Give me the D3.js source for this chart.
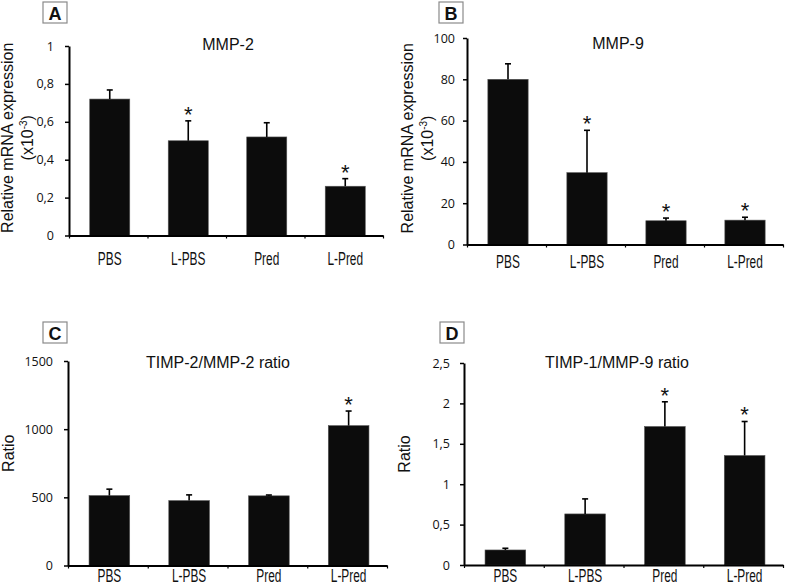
<!DOCTYPE html>
<html>
<head>
<meta charset="utf-8">
<script src="https://cdn.jsdelivr.net/npm/d3@7"></script>
<style>
  html, body { margin: 0; padding: 0; background: #fff; }
  svg { display: block; }
</style>
</head>
<body>
<svg id="chart" width="787" height="587"></svg>
<script>
// ---------- data ----------
const categories = ["PBS", "L-PBS", "Pred", "L-Pred"];

const mmp2Values = [0.72, 0.50, 0.52, 0.26];
const mmp2Errors = [0.048, 0.105, 0.075, 0.04];
const mmp2Sig = [false, true, false, true];
const mmp2Ticks = [0, 0.2, 0.4, 0.6, 0.8, 1];

const mmp9Values = [80, 34.8, 11.5, 11.8];
const mmp9Errors = [7.5, 20.5, 1.3, 1.4];
const mmp9Sig = [false, true, true, true];
const mmp9Ticks = [0, 20, 40, 60, 80, 100];

const timp2Values = [513, 476, 511, 1026];
const timp2Errors = [47, 42, 6, 107];
const timp2Sig = [false, false, false, true];
const timp2Ticks = [0, 500, 1000, 1500];

const timp1Values = [0.186, 0.632, 1.714, 1.355];
const timp1Errors = [0.021, 0.186, 0.306, 0.421];
const timp1Sig = [false, false, true, true];
const timp1Ticks = [0, 0.5, 1, 1.5, 2, 2.5];

const panelLetters = ["A", "B", "C", "D"];
const panelTitles = ["MMP-2", "MMP-9", "TIMP-2/MMP-2 ratio", "TIMP-1/MMP-9 ratio"];

// ---------- layout ----------
const panels = [
  { letter: panelLetters[0], title: panelTitles[0], values: mmp2Values, errors: mmp2Errors, sig: mmp2Sig, ticks: mmp2Ticks,
    x0: 69, x1: 383, yTop: 46, yBot: 235.5, tickPad: 11, box: [43, 2], titleX: 228, titleY: 50,
    ylab: "mrna", ylabX: 13, catY: 265 },
  { letter: panelLetters[1], title: panelTitles[1], values: mmp9Values, errors: mmp9Errors, sig: mmp9Sig, ticks: mmp9Ticks,
    x0: 467, x1: 783, yTop: 38, yBot: 244.5, tickPad: 8, box: [439, 2], titleX: 618, titleY: 49,
    ylab: "mrna", ylabX: 413, catY: 268 },
  { letter: panelLetters[2], title: panelTitles[2], values: timp2Values, errors: timp2Errors, sig: timp2Sig, ticks: timp2Ticks,
    x0: 68, x1: 387, yTop: 361, yBot: 565.5, tickPad: 11, box: [43, 322], titleX: 218, titleY: 368,
    ylab: "ratio", ylabX: 14, catY: 582 },
  { letter: panelLetters[3], title: panelTitles[3], values: timp1Values, errors: timp1Errors, sig: timp1Sig, ticks: timp1Ticks,
    x0: 464, x1: 783, yTop: 363, yBot: 565, tickPad: 10, box: [440, 322], titleX: 617, titleY: 368,
    ylab: "ratio", ylabX: 410, catY: 582 }
];

const svg = d3.select("#chart");
const fmt = d => String(d).replace(".", ",");

panels.forEach(p => {
  const g = svg.append("g");
  const maxV = p.ticks[p.ticks.length - 1];
  const y = d3.scaleLinear().domain([0, maxV]).range([p.yBot, p.yTop]);
  const x = d3.scaleBand().domain(categories).range([p.x0, p.x1]).paddingInner(0.49).paddingOuter(0.245);
  const xb = d3.scaleLinear().domain([0, categories.length]).range([p.x0, p.x1]);

  // bars
  g.selectAll("rect.bar").data(categories).join("rect")
    .attr("class", "bar")
    .attr("x", d => x(d) + 1.5)
    .attr("width", x.bandwidth())
    .attr("y", (d, i) => y(p.values[i]))
    .attr("height", (d, i) => y(0) - y(p.values[i]))
    .attr("fill", "#0c0c0c")
    .attr("stroke", "#555")
    .attr("stroke-width", 0.6);

  // error bars (upper only)
  const cx = d => x(d) + 1.5 + x.bandwidth() / 2;
  g.selectAll("line.err").data(categories).join("line")
    .attr("class", "err")
    .attr("x1", cx).attr("x2", cx)
    .attr("y1", (d, i) => y(p.values[i]))
    .attr("y2", (d, i) => y(p.values[i] + p.errors[i]))
    .attr("stroke", "#000").attr("stroke-width", 1.6);
  g.selectAll("line.cap").data(categories).join("line")
    .attr("class", "cap")
    .attr("x1", d => cx(d) - 3).attr("x2", d => cx(d) + 3)
    .attr("y1", (d, i) => y(p.values[i] + p.errors[i]))
    .attr("y2", (d, i) => y(p.values[i] + p.errors[i]))
    .attr("stroke", "#000").attr("stroke-width", 1.6);

  // significance asterisks
  g.selectAll("text.sig").data(categories.filter((d, i) => p.sig[i])).join("text")
    .attr("class", "sig")
    .attr("x", d => cx(d))
    .attr("y", d => { const i = categories.indexOf(d); return y(p.values[i] + p.errors[i]) + 1; })
    .attr("text-anchor", "middle")
    .attr("font-family", "Liberation Sans, Arial, sans-serif")
    .attr("font-size", 22)
    .attr("fill", "#111")
    .text("*");

  // y axis
  const ya = g.append("g").attr("transform", `translate(${p.x0},0)`)
    .call(d3.axisLeft(y).tickValues(p.ticks).tickFormat(fmt).tickSize(4).tickSizeOuter(0).tickPadding(p.tickPad));
  ya.select(".domain").attr("stroke", "#000").attr("stroke-width", 2);
  ya.selectAll(".tick line").attr("stroke", "#000").attr("stroke-width", 1.5);
  ya.selectAll(".tick text").attr("font-family", "Open Sans, sans-serif").attr("font-size", 12.5).attr("fill", "#111");

  // x axis line with boundary ticks
  const xa = g.append("g").attr("transform", `translate(0,${p.yBot})`)
    .call(d3.axisBottom(xb).tickValues(d3.range(categories.length + 1)).tickFormat("").tickSize(3).tickSizeOuter(0));
  xa.select(".domain").attr("stroke", "#000").attr("stroke-width", 2);
  xa.selectAll(".tick line").attr("stroke", "#000").attr("stroke-width", 1.2);

  // category labels
  const xl = g.append("g").attr("transform", `translate(0,${p.yBot})`)
    .call(d3.axisBottom(x).tickSize(0).tickPadding(0));
  xl.select(".domain").remove();
  xl.selectAll(".tick").attr("transform", d => `translate(${cx(d)},0)`);
  xl.selectAll(".tick text")
    .attr("y", p.catY - p.yBot).attr("dy", 0)
    .attr("transform", "scale(0.66,1)")
    .attr("font-family", "Liberation Sans, Arial, sans-serif")
    .attr("font-size", 18)
    .attr("fill", "#111");

  // title
  g.append("text").attr("x", p.titleX).attr("y", p.titleY)
    .attr("text-anchor", "middle")
    .attr("font-family", "Liberation Sans, Arial, sans-serif")
    .attr("font-size", 16).attr("fill", "#111")
    .text(p.title);

  // panel letter box
  g.append("rect").attr("x", p.box[0]).attr("y", p.box[1]).attr("width", 24).attr("height", 21)
    .attr("fill", "#fff").attr("stroke", "#8a8a8a").attr("stroke-width", 1.2);
  g.append("text").attr("x", p.box[0] + 12).attr("y", p.box[1] + 17.5)
    .attr("text-anchor", "middle")
    .attr("font-family", "Liberation Sans, Arial, sans-serif")
    .attr("font-weight", "bold").attr("font-size", 18).attr("fill", "#111")
    .text(p.letter);

  // y label
  const cy = (p.yTop + p.yBot) / 2 - 3;
  if (p.ylab === "mrna") {
    g.append("text")
      .attr("transform", `translate(${p.ylabX},${cy}) rotate(-90)`)
      .attr("text-anchor", "middle")
      .attr("font-family", "Liberation Sans, Arial, sans-serif")
      .attr("font-size", 16).attr("fill", "#111")
      .text("Relative mRNA expression");
    const t2 = g.append("text")
      .attr("transform", `translate(${p.ylabX + 20},${cy}) rotate(-90)`)
      .attr("text-anchor", "middle")
      .attr("font-family", "Liberation Sans, Arial, sans-serif")
      .attr("font-size", 16).attr("fill", "#111");
    t2.append("tspan").text("(x10");
    t2.append("tspan").attr("dy", -6).attr("font-size", 10).text("-3");
    t2.append("tspan").attr("dy", 6).text(")");
  } else {
    g.append("text")
      .attr("transform", `translate(${p.ylabX},${(p.yTop + p.yBot) / 2 - 10}) rotate(-90)`)
      .attr("text-anchor", "middle")
      .attr("font-family", "Liberation Sans, Arial, sans-serif")
      .attr("font-size", 16).attr("fill", "#111")
      .text("Ratio");
  }
});
</script>
</body>
</html>
